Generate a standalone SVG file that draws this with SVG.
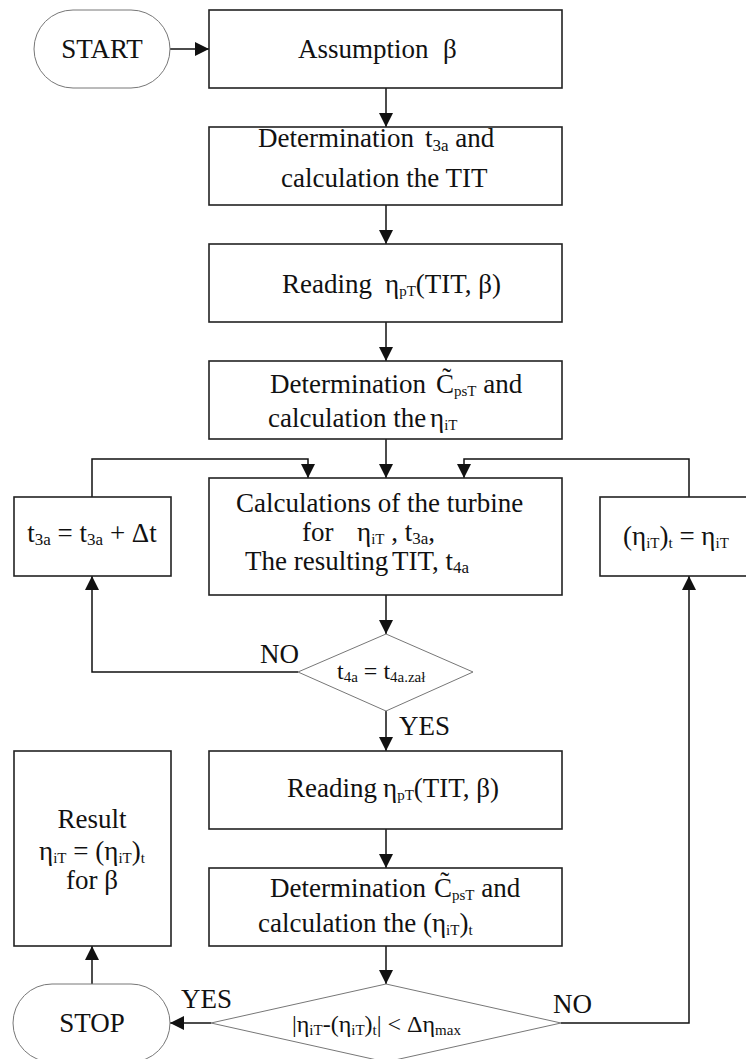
<svg xmlns="http://www.w3.org/2000/svg" width="746" height="1059" viewBox="0 0 746 1059">
<defs>
<style>
.box{fill:#fff;stroke:#222;stroke-width:1.6}
.term{fill:#fff;stroke:#777;stroke-width:1}
.dia{fill:#fff;stroke:#777;stroke-width:1}
.con{fill:none;stroke:#111;stroke-width:1.5}
text{font-family:'Liberation Serif','DejaVu Serif',serif;font-size:27px;fill:#111}
.sm{font-size:24px}
.sub{font-size:17px}
.subs{font-size:15px}
</style>
<marker id="ah" markerUnits="userSpaceOnUse" markerWidth="14" markerHeight="14" refX="14" refY="7" orient="auto">
<path d="M0,0 L14,7 L0,14 z" fill="#111"/>
</marker>
</defs>
<rect width="746" height="1059" fill="#fff"/>

<g id="connectors">
<path class="con" d="M170,49 H209" marker-end="url(#ah)"/>
<path class="con" d="M386,88 V127" marker-end="url(#ah)"/>
<path class="con" d="M386,205 V244" marker-end="url(#ah)"/>
<path class="con" d="M386,322 V361" marker-end="url(#ah)"/>
<path class="con" d="M386,439 V478" marker-end="url(#ah)"/>
<path class="con" d="M386,595 V634" marker-end="url(#ah)"/>
<path class="con" d="M386,711 V751" marker-end="url(#ah)"/>
<path class="con" d="M386,829 V868" marker-end="url(#ah)"/>
<path class="con" d="M386,946 V984" marker-end="url(#ah)"/>
<path class="con" d="M92,497 V459 H308 V478" marker-end="url(#ah)"/>
<path class="con" d="M689,497 V459 H464 V478" marker-end="url(#ah)"/>
<path class="con" d="M298,672 H92 V576" marker-end="url(#ah)"/>
<path class="con" d="M211,1023 H170" marker-end="url(#ah)"/>
<path class="con" d="M92,984 V946" marker-end="url(#ah)"/>
<path class="con" d="M561,1023 H689 V576" marker-end="url(#ah)"/>
<text x="260" y="663">NO</text>
<text x="399" y="735">YES</text>
<text x="181" y="1008">YES</text>
<text x="553" y="1013">NO</text>
</g>

<g id="start">
<rect class="term" x="34" y="10" width="136" height="78" rx="39" ry="39"/>
<text x="102" y="58" text-anchor="middle">START</text>
</g>

<g id="assumption">
<rect class="box" x="209" y="10" width="353" height="78"/>
<text x="298" y="58">Assumption<tspan x="443">β</tspan></text>
</g>

<g id="determination1">
<rect class="box" x="209" y="127" width="353" height="78"/>
<text x="258" y="147">Determination<tspan x="425">t</tspan><tspan class="sub" dy="4">3a</tspan><tspan dy="-4"> and</tspan></text>
<text x="281" y="187">calculation the TIT</text>
</g>

<g id="reading1">
<rect class="box" x="209" y="244" width="353" height="78"/>
<text x="282" y="293">Reading</text>
<text x="385" y="293">η<tspan class="subs" dy="3">pT</tspan><tspan dy="-3">(TIT, β)</tspan></text>
</g>

<g id="determination2">
<rect class="box" x="209" y="361" width="353" height="78"/>
<text x="270" y="393">Determination</text>
<text x="436" y="393">C&#x303;<tspan class="subs" dy="3">psT</tspan><tspan dy="-3"> and</tspan></text>
<text x="268" y="427">calculation the</text>
<text x="430" y="427">η<tspan class="subs" dy="3">iT</tspan></text>
</g>

<g id="calculations">
<rect class="box" x="209" y="478" width="353" height="117"/>
<text x="236" y="512">Calculations of the turbine</text>
<text x="302" y="541">for</text>
<text x="357" y="541">η<tspan class="subs" dy="3">iT</tspan><tspan dy="-3"> , t</tspan><tspan class="sub" dy="3">3a</tspan><tspan dy="-3">,</tspan></text>
<text x="245" y="570">The resulting</text>
<text x="392" y="570">TIT, t<tspan class="sub" dy="3">4a</tspan></text>
</g>

<g id="increment">
<rect class="box" x="14" y="497" width="157" height="79"/>
<text x="92" y="542" text-anchor="middle">t<tspan class="sub" dy="3">3a</tspan><tspan dy="-3"> = t</tspan><tspan class="sub" dy="3">3a</tspan><tspan dy="-3"> + Δt</tspan></text>
</g>

<g id="assign">
<rect class="box" x="600" y="497" width="157" height="79"/>
<text x="623" y="545">(η<tspan class="subs" dy="3">iT</tspan><tspan dy="-3">)</tspan><tspan class="subs" dy="3">t</tspan><tspan dy="-3"> = η</tspan><tspan class="subs" dy="3">iT</tspan></text>
</g>

<g id="decision1">
<polygon class="dia" points="386,634 473,672 386,711 298,672"/>
<text class="sm" x="337" y="679">t<tspan class="subs" dy="3">4a</tspan><tspan dy="-3"> = t</tspan><tspan class="subs" dy="3">4a.zał</tspan></text>
</g>

<g id="reading2">
<rect class="box" x="209" y="751" width="353" height="78"/>
<text x="287" y="797">Reading</text>
<text x="383" y="797">η<tspan class="subs" dy="3">pT</tspan><tspan dy="-3">(TIT, β)</tspan></text>
</g>

<g id="determination3">
<rect class="box" x="209" y="868" width="353" height="78"/>
<text x="270" y="897">Determination</text>
<text x="434" y="897">C&#x303;<tspan class="subs" dy="3">psT</tspan><tspan dy="-3"> and</tspan></text>
<text x="258" y="932">calculation the (η<tspan class="subs" dy="3">iT</tspan><tspan dy="-3">)</tspan><tspan class="subs" dy="3">t</tspan></text>
</g>

<g id="decision2">
<polygon class="dia" points="386,984 561,1023 386,1062 211,1023"/>
<text class="sm" x="292" y="1032">|η<tspan class="subs" dy="3">iT</tspan><tspan dy="-3">-(η</tspan><tspan class="subs" dy="3">iT</tspan><tspan dy="-3">)</tspan><tspan class="subs" dy="3">t</tspan><tspan dy="-3">| &lt; Δη</tspan><tspan class="subs" dy="3">max</tspan></text>
</g>

<g id="stop">
<rect class="term" x="13" y="984" width="157" height="78" rx="39" ry="39"/>
<text x="92" y="1032" text-anchor="middle">STOP</text>
</g>

<g id="result">
<rect class="box" x="14" y="751" width="157" height="195"/>
<text x="92" y="828" text-anchor="middle">Result</text>
<text x="92" y="860" text-anchor="middle">η<tspan class="subs" dy="3">iT</tspan><tspan dy="-3"> = (η</tspan><tspan class="subs" dy="3">iT</tspan><tspan dy="-3">)</tspan><tspan class="subs" dy="3">t</tspan></text>
<text x="92" y="889" text-anchor="middle">for  β</text>
</g>
</svg>
